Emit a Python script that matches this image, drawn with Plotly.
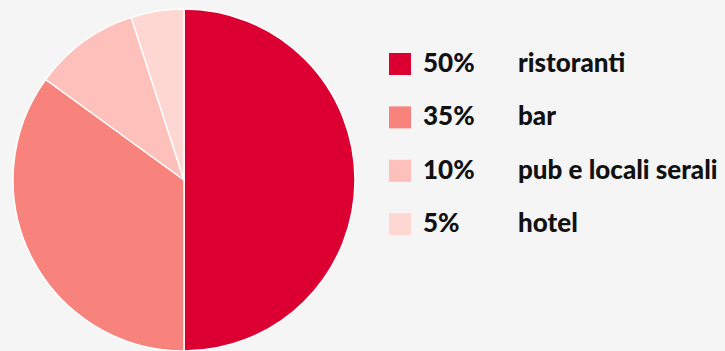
import plotly.graph_objects as go

labels = ["ristoranti", "bar", "pub e locali serali", "hotel"]
values = [50, 35, 10, 5]
pct_labels = ["50%", "35%", "10%", "5%"]
colors = ["#dc0032", "#f8837c", "#fec0bb", "#fed6d2"]

W, H = 725, 351
cx, r = 184, 172

fig = go.Figure(go.Pie(
    labels=labels, values=values, sort=False, direction="clockwise", rotation=0,
    marker=dict(colors=colors, line=dict(color="#ffffff", width=1.5)),
    textinfo="none", hoverinfo="label+percent", showlegend=False,
    domain=dict(x=[(cx - r) / W, (cx + r) / W], y=[0, 1]),
))

row_y0, row_dy = 64, 53.4
for i, (lab, pct, col) in enumerate(zip(labels, pct_labels, colors)):
    yc = row_y0 + i * row_dy
    fig.add_shape(type="rect", xref="paper", yref="paper",
                  x0=389 / W, x1=411 / W,
                  y0=1 - (yc + 11 - 9) / (H - 9), y1=1 - (yc - 11 - 9) / (H - 9),
                  fillcolor=col, line=dict(width=0))
    ty = 1 - (yc - 2 - 9) / (H - 9)
    fig.add_annotation(xref="paper", yref="paper", x=421 / W, y=ty,
                       text=pct, showarrow=False, xanchor="left", yanchor="middle",
                       font=dict(family="Lato", size=26, weight=900, color="#111111"))
    fig.add_annotation(xref="paper", yref="paper", x=516 / W, y=ty,
                       text=lab, showarrow=False, xanchor="left", yanchor="middle",
                       font=dict(family="Lato", size=26, weight=900, color="#111111"))

fig.update_layout(
    width=W, height=H,
    margin=dict(l=0, r=0, t=9, b=0),
    paper_bgcolor="#f5f5f5", plot_bgcolor="#f5f5f5",
)
fig.write_html("out.html")
